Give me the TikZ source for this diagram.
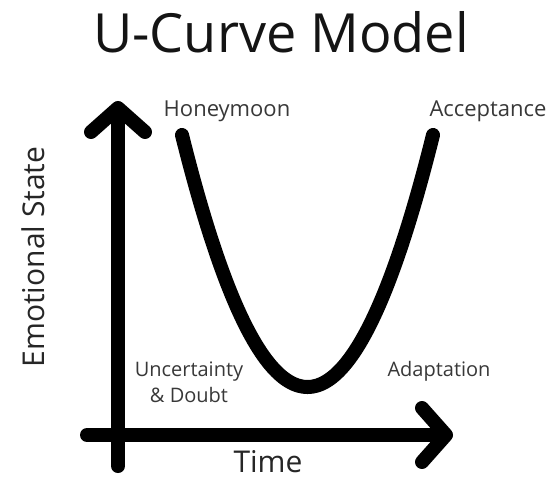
\documentclass[tikz,border=0pt]{standalone}
\usepackage{fontspec}
\setmainfont{Open Sans}
\usetikzlibrary{calc,arrows.meta}

\begin{document}
\begin{tikzpicture}[
  x=1pt, y=-1pt,
  axis/.style={line width=14pt, line cap=round, -{Straight Barb[length=24pt, width=54pt, round]}},
  ucurve/.style={line width=14pt, line cap=round},
  lbl/.style={font=\fontsize{22}{26}\selectfont, text=black!78, inner sep=0pt, align=center},
  sml/.style={lbl, font=\fontsize{20}{26}\selectfont},
  big/.style={font=\fontsize{30}{34}\selectfont, text=black!85, inner sep=0pt},
  ttl/.style={font=\fontsize{54}{60}\selectfont, text=black!92, inner sep=0pt}
]
\useasboundingbox (0,0) rectangle (553,478);

% axes
\coordinate (ybot) at (118,466);
\coordinate (ytip) at (118,101);
\coordinate (xleft) at (87,435);
\coordinate (xtip) at (453,435);
\draw[axis] (ybot) -- (ytip);
\draw[axis] (xleft) -- (xtip);

% the U
\draw[ucurve] plot[domain=-125.5:125.5, samples=61, smooth]
  ({\x+307.5}, {387-252*(\x/125.5)^2});

% texts
\node[ttl, anchor=base] (title) at (281,53) {U-Curve Model};
\node[lbl, anchor=base] (honey) at (227,117) {Honeymoon};
\node[lbl, anchor=base] (accept) at (488,117) {Acceptance};
\node[sml, anchor=base] (doubt) at (189,402) {Uncertainty\\\& Doubt};
\node[sml, anchor=base] (adapt) at (439,376) {Adaptation};
\node[big, anchor=base] (time) at (268,472) {Time};
\node[big, anchor=base, rotate=90] (emo) at (44,257) {Emotional State};
\end{tikzpicture}
\end{document}
